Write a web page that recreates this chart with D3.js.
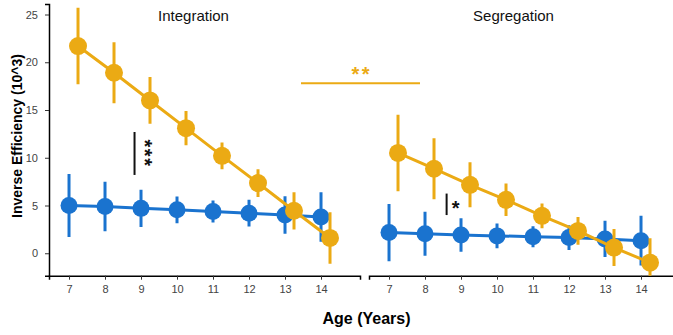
<!DOCTYPE html>
<html>
<head>
<meta charset="utf-8">
<script src="https://cdn.jsdelivr.net/npm/d3@7"></script>
<style>
  html, body { margin: 0; padding: 0; background: #fff; }
  svg { display: block; font-family: "Liberation Sans", Arial, sans-serif; }
</style>
</head>
<body>
<svg id="chart" width="673" height="335"></svg>
<script>
// Ages on the x axis
const ages = [7, 8, 9, 10, 11, 12, 13, 14];
const yTicks = [0, 5, 10, 15, 20, 25];
const panelTitles = ["Integration", "Segregation"];

// Integration: mean inverse efficiency (10^3) and error half-width
const integGold    = [21.7, 18.9, 16.0, 13.1, 10.2, 7.35, 4.45, 1.6];
const integGoldErr = [4.0, 3.2, 2.45, 1.8, 1.4, 1.45, 1.95, 2.7];
const integBlue    = [5.0, 4.9, 4.7, 4.55, 4.37, 4.2, 4.0, 3.8];
const integBlueErr = [3.3, 2.6, 1.96, 1.4, 1.15, 1.4, 1.97, 2.6];

// Segregation
const segGold    = [10.5, 8.85, 7.17, 5.6, 3.92, 2.34, 0.6, -0.99];
const segGoldErr = [4.0, 3.2, 2.35, 1.7, 1.3, 1.45, 1.93, 2.56];
const segBlue    = [2.17, 2.05, 1.92, 1.82, 1.74, 1.64, 1.5, 1.32];
const segBlueErr = [3.0, 2.3, 1.75, 1.3, 1.1, 1.3, 1.9, 2.6];

const GOLD = "#EBAA14";
const BLUE = "#1A73CF";

const svg = d3.select("#chart");

const plotTop = 4, axisY = 275.7;
const y = d3.scaleLinear().domain([-2.35, 26.1]).range([axisY, plotTop]);

const panels = [
  { title: panelTitles[0], x0: 49, gold: integGold, goldErr: integGoldErr, blue: integBlue, blueErr: integBlueErr, yAxis: true },
  { title: panelTitles[1], x0: 369, gold: segGold, goldErr: segGoldErr, blue: segBlue, blueErr: segBlueErr, yAxis: false }
];
const panelW = 311;
const goldShift = 0.25;   // horizontal dodge of the gold group

panels.forEach((p, i) => {
  const x = d3.scaleLinear().domain([6.444, 15.083]).range([p.x0, p.x0 + panelW]);
  const g = svg.append("g");

  const clipId = "clip" + i;
  svg.append("clipPath").attr("id", clipId)
    .append("rect").attr("x", p.x0).attr("y", plotTop).attr("width", panelW).attr("height", axisY - plotTop);

  // x axis
  const xAxis = d3.axisBottom(x).tickValues(ages).tickSize(4).tickPadding(6).tickFormat(d3.format("d"));
  const xa = g.append("g").attr("transform", `translate(0,${axisY})`).call(xAxis);
  xa.select(".domain").attr("stroke", "#000").attr("stroke-width", 1.5);
  xa.selectAll(".tick line").attr("stroke", "#333").attr("stroke-width", 1);
  xa.selectAll(".tick text").attr("fill", "#444").attr("font-size", 11).attr("font-family", "Liberation Sans, Arial, sans-serif");

  if (p.yAxis) {
    const yAxis = d3.axisLeft(y).tickValues(yTicks).tickSize(4).tickPadding(7);
    const ya = g.append("g").attr("transform", `translate(${p.x0},0)`).call(yAxis);
    ya.select(".domain").attr("stroke", "#000").attr("stroke-width", 1.5);
    ya.selectAll(".tick line").attr("stroke", "#333");
    ya.selectAll(".tick text").attr("fill", "#444").attr("font-size", 11).attr("font-family", "Liberation Sans, Arial, sans-serif");
  }

  // panel title
  g.append("text")
    .attr("x", p.x0 + 144.5).attr("y", 21)
    .attr("text-anchor", "middle").attr("font-size", 15).attr("fill", "#111")
    .text(p.title);

  const plot = g.append("g").attr("clip-path", `url(#${clipId})`);

  const drawSeries = (vals, errs, color, shift, r) => {
    const line = d3.line().x((d, k) => x(ages[k] + shift)).y(d => y(d));
    plot.append("path").datum(vals).attr("d", line)
      .attr("fill", "none").attr("stroke", color).attr("stroke-width", 3);
    plot.selectAll(null).data(vals).enter().append("line")
      .attr("x1", (d, k) => x(ages[k] + shift)).attr("x2", (d, k) => x(ages[k] + shift))
      .attr("y1", (d, k) => y(d + errs[k])).attr("y2", (d, k) => y(d - errs[k]))
      .attr("stroke", color).attr("stroke-width", 3);
    plot.selectAll(null).data(vals).enter().append("circle")
      .attr("cx", (d, k) => x(ages[k] + shift)).attr("cy", d => y(d))
      .attr("r", r).attr("fill", color);
  };

  drawSeries(p.blue, p.blueErr, BLUE, 0, 8.5);
  drawSeries(p.gold, p.goldErr, GOLD, goldShift, 9);
});

// significance markers
const xL = d3.scaleLinear().domain([6.444, 15.083]).range([49, 360]);
const xR = d3.scaleLinear().domain([6.444, 15.083]).range([369, 680]);
const STAR_FS = 20;

// Integration: age-group difference, stars written downwards beside the bracket
svg.append("line").attr("x1", xL(8.82)).attr("x2", xL(8.82))
  .attr("y1", y(12.7)).attr("y2", y(8.2)).attr("stroke", "#111").attr("stroke-width", 2);
svg.append("text")
  .attr("transform", `translate(${xL(9.22) - STAR_FS * 0.57},${y(10.45)}) rotate(90)`)
  .attr("text-anchor", "middle").attr("letter-spacing", 1.6)
  .attr("font-size", STAR_FS).attr("font-weight", "bold").attr("fill", "#111")
  .text("***");

// Segregation
svg.append("line").attr("x1", xR(8.6)).attr("x2", xR(8.6))
  .attr("y1", y(6.25)).attr("y2", y(4.0)).attr("stroke", "#111").attr("stroke-width", 2);
svg.append("text")
  .attr("x", xR(8.85)).attr("y", y(5.2) + STAR_FS * 0.57)
  .attr("text-anchor", "middle").attr("font-size", STAR_FS).attr("font-weight", "bold")
  .attr("fill", "#111").text("*");

// Between-panel comparison of the gold group
svg.append("line").attr("x1", 301).attr("x2", 420)
  .attr("y1", y(17.8)).attr("y2", y(17.8)).attr("stroke", GOLD).attr("stroke-width", 2);
svg.append("text")
  .attr("x", 361.7).attr("y", y(19.25) + STAR_FS * 0.57)
  .attr("text-anchor", "middle").attr("letter-spacing", 2.5)
  .attr("font-size", STAR_FS).attr("font-weight", "bold").attr("fill", GOLD)
  .text("**");

// axis titles
svg.append("text")
  .attr("transform", `translate(22,136) rotate(-90)`)
  .attr("text-anchor", "middle").attr("font-size", 14).attr("font-weight", "bold").attr("fill", "#000")
  .text("Inverse Efficiency (10^3)");
svg.append("text")
  .attr("x", 366.5).attr("y", 324)
  .attr("text-anchor", "middle").attr("font-size", 16).attr("font-weight", "bold").attr("fill", "#000")
  .text("Age (Years)");
</script>
</body>
</html>
